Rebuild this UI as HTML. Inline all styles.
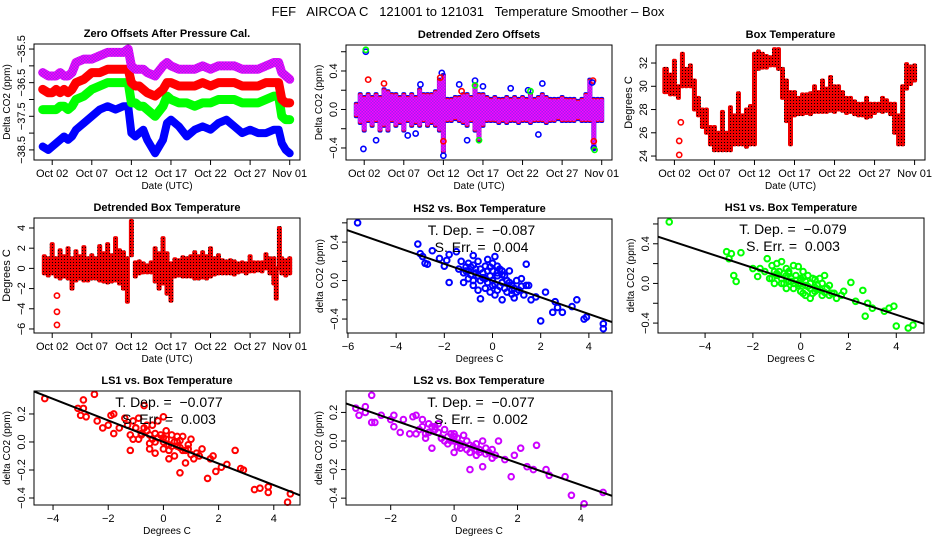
<!DOCTYPE html>
<html><head><meta charset="utf-8"><style>
html,body{margin:0;padding:0;background:#fff;}
svg{display:block;font-family:"Liberation Sans",sans-serif;}
</style></head><body>
<svg id="c" width="936" height="540" viewBox="0 0 936 540" xmlns="http://www.w3.org/2000/svg">
<defs>
<pattern id="pr" width="3" height="3" patternUnits="userSpaceOnUse"><rect width="3" height="3" fill="#e00"/><rect x="1" y="1" width="1" height="1" fill="#000"/></pattern>
<pattern id="pm" width="3" height="3" patternUnits="userSpaceOnUse"><rect width="3" height="3" fill="#a020f0"/><rect x="0" y="0" width="1.5" height="1.5" fill="#f0f"/><rect x="1.5" y="1.5" width="1.5" height="1.5" fill="#f0f"/></pattern>
</defs>
<text x="468" y="16" font-size="13" text-anchor="middle" style="white-space:pre">FEF   AIRCOA C   121001 to 121031   Temperature Smoother – Box</text>
</svg>
<script>
// ---------- data ----------
const timeTickLabels=["Oct 02","Oct 07","Oct 12","Oct 17","Oct 22","Oct 27","Nov 01"];
const timeTickValues=[2,7,12,17,22,27,32];
// Panel 1: zero offsets (day of month, ppm)
const p1T=[0.8,1.5,2,2.5,3,3.5,4,4.5,5,6,7,8,9,10,11,11.6,12,12.5,13,13.5,14,15,16,16.5,17,18,19,20,21,22,23,24,25,26,27,28,29,30,30.6,31,31.5,32];
const p1Blue=[-38.4,-38.5,-38.4,-38.3,-38.2,-38.1,-38.2,-38.1,-37.9,-37.7,-37.5,-37.3,-37.2,-37.3,-37.2,-37.2,-38.0,-38.1,-38.0,-37.9,-38.2,-38.6,-38.2,-37.7,-37.6,-37.8,-38.1,-37.9,-37.8,-37.9,-37.7,-37.6,-37.8,-38.0,-37.9,-38.0,-38.0,-37.9,-37.9,-38.3,-38.5,-38.6];
const p1Magenta=[-36.2,-36.3,-36.3,-36.3,-36.2,-36.3,-36.3,-36.2,-35.9,-35.8,-35.8,-35.7,-35.6,-35.6,-35.6,-35.5,-36.0,-36.1,-36.1,-36.1,-36.2,-36.3,-36.0,-35.9,-36.0,-36.1,-36.1,-36.1,-36.0,-36.1,-36.0,-36.0,-36.0,-36.1,-36.1,-36.1,-36.0,-35.9,-35.9,-36.2,-36.3,-36.4];
const p1Red=[-36.7,-36.8,-36.8,-36.7,-36.8,-36.7,-36.8,-36.7,-36.5,-36.4,-36.2,-36.2,-36.1,-36.1,-36.1,-36.1,-36.5,-36.6,-36.6,-36.7,-36.8,-36.9,-36.7,-36.5,-36.5,-36.6,-36.6,-36.6,-36.5,-36.6,-36.5,-36.5,-36.5,-36.6,-36.6,-36.6,-36.5,-36.5,-36.5,-37.0,-37.1,-37.1];
const p1Green=[-37.3,-37.3,-37.3,-37.3,-37.2,-37.2,-37.3,-37.2,-37.0,-36.9,-36.7,-36.6,-36.5,-36.5,-36.5,-36.5,-37.1,-37.1,-37.2,-37.2,-37.3,-37.5,-37.2,-36.9,-37.0,-37.1,-37.1,-37.2,-37.1,-37.1,-37.0,-37.0,-37.0,-37.1,-37.1,-37.1,-37.0,-36.9,-36.9,-37.5,-37.6,-37.6];
// Panel 2: detrended zero offsets range
const p2T=[1,1.5,2,2.5,3,3.5,4,4.5,5,5.5,6,6.5,7,7.5,8,8.5,9,9.5,10,10.5,11,11.5,12,12.5,13,13.5,14,14.5,15,15.5,16,16.5,17,17.5,18,18.5,19,19.5,20,20.5,21,21.5,22,22.5,23,23.5,24,24.5,25,25.5,26,26.5,27,27.5,28,28.5,29,29.5,30,30.5,31,31.5,32];
const p2Lo=[-0.05,-0.12,-0.2,-0.1,-0.15,-0.1,-0.2,-0.15,-0.2,-0.1,-0.15,-0.12,-0.2,-0.1,-0.15,-0.12,-0.15,-0.1,-0.15,-0.12,-0.15,-0.2,-0.42,-0.1,-0.1,-0.08,-0.1,-0.12,-0.15,-0.1,-0.2,-0.3,-0.15,-0.1,-0.1,-0.1,-0.12,-0.1,-0.12,-0.1,-0.1,-0.12,-0.1,-0.1,-0.12,-0.1,-0.1,-0.1,-0.12,-0.1,-0.1,-0.08,-0.1,-0.1,-0.1,-0.1,-0.08,-0.1,-0.1,-0.1,-0.38,-0.1,-0.1];
const p2Hi=[0.05,0.15,0.12,0.15,0.12,0.15,0.12,0.2,0.18,0.15,0.15,0.12,0.15,0.12,0.15,0.12,0.2,0.15,0.15,0.15,0.18,0.3,0.35,0.1,0.1,0.12,0.12,0.15,0.15,0.12,0.25,0.15,0.15,0.12,0.1,0.12,0.1,0.1,0.12,0.1,0.12,0.1,0.12,0.1,0.15,0.1,0.12,0.15,0.12,0.1,0.1,0.1,0.12,0.1,0.1,0.1,0.08,0.1,0.15,0.3,0.1,0.1,0.1];
const p2OutT=[2.2,2.2,2.5,1.9,3.5,12,12,15,16.5,24.5,24,4.5,9.1,14,16,16,17,31,31,31.1,11.8,11.6,30.9,30.8,7.5,8.5,14.3,22.7,23,20.5];
const p2OutV=[0.6,0.62,0.31,-0.41,-0.32,-0.48,-0.33,-0.32,-0.32,0.27,-0.26,0.27,0.26,0.26,0.3,0.25,0.24,-0.33,-0.4,-0.42,0.38,0.33,0.3,0.28,-0.27,-0.25,0.19,0.2,0.19,0.22];
const p2OutC=["b","g","r","b","b","b","r","b","g","b","b","r","b","b","b","g","b","r","b","g","b","r","r","b","b","b","r","b","g","b"];
// Panel 3: box temperature range
const p3T=[0.8,1,1.5,2,2.5,3,3.5,4,4.5,5,5.5,6,6.5,7,7.5,8,8.5,9,9.5,10,10.5,11,11.5,12,12.5,13,13.5,14,14.5,15,15.5,16,16.5,17,17.5,18,18.5,19,19.5,20,20.5,21,21.5,22,22.5,23,23.5,24,24.5,25,25.5,26,26.5,27,27.5,28,28.5,29,29.5,30,30.5,31,31.5,32];
const p3Lo=[29.5,29.5,29.3,29.3,29,30,30,30,28,27.5,26.5,26,25,24.5,24.5,24.5,24.5,24.5,25,25,25,24.8,25,25,31.5,31.6,31.6,31.8,31.8,31.5,29,27,25,27.5,27.6,27.6,27.7,27.6,27.8,27.8,27.8,27.8,27.9,27.8,28,27.9,27.7,27.8,27.6,27.5,27.5,27.3,27.4,27.7,27.9,27.8,27.9,27.6,26,25,25,29.8,30.2,30.5];
const p3Hi=[31.5,31.5,31,32.2,30,32.8,31.5,31.8,30.5,29,28,28,26.5,26.5,26,27.8,26,28.2,27.5,29.4,27.5,28,28.3,32.8,33,32.8,32.6,32.5,33.2,33.2,31.5,30.5,29.5,29.5,29,29.3,29.3,29.4,30,29.5,30.5,29.8,30.8,30,30,29.5,29,29,28.7,28.5,28.5,29,28.5,28.5,28.5,29,28.8,28.5,28.5,27.5,30,31.9,31.7,31.8];
const p3OutT=[2.6,2.6,2.8];
const p3OutV=[24.1,25.3,26.9];
// Panel 4: detrended box temperature range
const p4T=[1,1.5,2,2.5,3,3.5,4,4.5,5,5.5,6,6.5,7,7.5,8,8.5,9,9.5,10,10.5,11,11.5,12,12.5,13,13.5,14,14.5,15,15.5,16,16.5,17,17.5,18,18.5,19,19.5,20,20.5,21,21.5,22,22.5,23,23.5,24,24.5,25,25.5,26,26.5,27,27.5,28,28.5,29,29.5,30,30.3,30.7,31,31.5,32];
const p4Lo=[-0.5,-0.7,-0.5,-0.8,-1,-0.8,-1,-2,-1.2,-1,-1.2,-1.2,-1,-1,-1.2,-1.3,-1.4,-1.3,-1.2,-1.5,-2,-3.3,1.3,-0.8,-0.5,-0.4,-0.4,-0.4,-1.3,-2,-1.5,-2.5,-3.2,-0.8,-0.7,-0.8,-0.8,-0.8,-1,-1,-0.9,-1,-0.8,-0.6,-0.5,-0.5,-0.5,-0.5,-0.6,-0.4,-0.3,-0.5,-0.3,-0.3,-0.2,-0.3,0,-0.5,-1.5,-3,0,-0.5,-0.7,-0.5];
const p4Hi=[1.2,1,2.4,1,1.8,1.2,2,1,1.7,1.2,2.1,1,1.3,1,2.2,1.5,2.4,1.3,3,1.8,1.6,1,4.7,0.6,0.7,0.5,0.3,0.6,2,1.5,3,1.5,0.5,0.9,0.8,1.1,1,1.2,1.6,1.2,1.6,1.2,2,1,1.3,0.8,0.7,0.8,0.7,0.5,0.6,0.5,1.2,0.6,0.6,0.6,1.4,1,1,0,4,1,0.8,1];
const p4OutT=[2.6,2.6,2.6];
const p4OutV=[-2.7,-4.3,-5.6];
// Scatter panels
const hs2X=[-5.6,-3.1,-3.0,-2.9,-2.8,-2.7,-2.5,-2.2,-2.0,-1.9,-1.8,-1.8,-1.5,-1.4,-1.3,-1.2,-1.1,-1.0,-1.0,-0.9,-0.8,-0.8,-0.7,-0.6,-0.6,-0.5,-0.5,-0.4,-0.3,-0.3,-0.2,-0.1,-0.1,0,0,0.1,0.1,0.2,0.2,0.3,0.4,0.4,0.5,0.6,0.7,0.8,0.9,1.0,1.1,1.2,1.3,1.4,1.5,1.6,1.8,2.0,2.2,2.5,2.6,2.7,2.9,3.3,3.5,3.8,3.9,4.6,4.6,-1.2,-0.8,-0.4,0,0.4,0.8,-0.6,-0.2,0.2,0.6,1.0,-1.0,0.0,-0.9,-0.3,0.3,0.9,-0.7,0.5,1.2,-0.1,-1.1,-0.5,0.1,0.7,-0.2,0.4,1.4,-0.8,0.2,0.8];
const hs2Y=[0.60,0.38,0.28,0.25,0.18,0.17,0.31,0.23,0.15,0.21,0.27,-0.02,0.30,0.12,0.20,-0.02,0.10,0.18,0.02,0.14,0.26,-0.05,0.08,0.20,-0.10,0.12,-0.19,0.03,0.15,-0.08,0.22,0.05,-0.12,0.10,-0.05,0.25,-0.15,0.05,-0.10,0.12,-0.02,-0.20,0.05,-0.12,0.10,-0.05,-0.18,0.0,-0.10,0.02,-0.15,0.17,-0.05,-0.20,-0.17,-0.42,-0.12,-0.33,-0.22,-0.28,-0.33,-0.27,-0.20,-0.40,-0.38,-0.45,-0.50,0.08,0.0,0.08,0.0,0.06,-0.1,0.05,-0.02,0.15,0.0,-0.12,0.1,0.18,0.06,0.02,-0.06,-0.08,0.12,-0.08,-0.06,0.14,0.14,0.0,-0.04,-0.02,0.1,0.1,-0.05,0.16,0.08,-0.14];
const hs1X=[-5.5,-3.1,-3.0,-2.9,-2.8,-2.7,-2.5,-2.0,-1.8,-1.7,-1.5,-1.4,-1.3,-1.2,-1.1,-1.0,-1.0,-0.9,-0.8,-0.8,-0.7,-0.6,-0.6,-0.5,-0.5,-0.4,-0.3,-0.3,-0.2,-0.1,-0.1,0,0,0.1,0.1,0.2,0.2,0.3,0.4,0.4,0.5,0.6,0.7,0.8,0.9,1.0,1.1,1.2,1.4,1.5,1.7,1.8,2.1,2.3,2.6,2.7,2.8,3.0,3.5,3.7,3.9,4.0,4.5,4.7,-1.2,-0.8,-0.4,0,0.4,0.8,-0.6,-0.2,0.2,0.6,1.0,-1.0,0.0,0.3,-0.3,0.7,1.3,-1.1,-0.5,0.1,0.5,0.9,1.2,-0.7,-0.1,0.6];
const hs1Y=[0.62,0.32,0.25,0.30,0.08,0.02,0.31,0.15,0.07,0.15,0.12,0.25,0.05,0.18,0.0,0.20,0.08,0.12,0.22,0.0,0.10,0.15,-0.05,0.12,0.02,0.05,0.18,-0.05,0.08,0.0,0.17,0.05,-0.08,0.12,-0.10,0.02,-0.12,0.08,-0.05,-0.15,0.05,-0.08,-0.02,0.05,-0.12,0.08,-0.05,-0.02,-0.10,-0.15,-0.12,-0.08,0.01,-0.18,-0.07,-0.33,-0.20,-0.25,-0.28,-0.25,-0.23,-0.43,-0.45,-0.42,0.05,0.05,0.02,0.0,0.0,-0.06,0.08,0.03,-0.02,-0.04,-0.09,0.1,0.03,-0.03,0.0,-0.06,-0.1,0.12,0.1,0.06,-0.1,0.0,-0.12,0.0,-0.02,0.04];
const ls1X=[-4.3,-3.1,-3.0,-2.9,-2.9,-2.8,-2.5,-2.4,-2.2,-2.0,-1.9,-1.8,-1.8,-1.6,-1.4,-1.3,-1.2,-1.1,-1.0,-0.9,-0.8,-0.7,-0.6,-0.5,-0.5,-0.4,-0.3,-0.2,-0.1,0,0,0.1,0.2,0.3,0.4,0.5,0.6,0.7,0.8,0.9,1.0,1.2,1.4,1.6,1.7,1.8,1.9,2.1,2.3,2.6,2.8,2.9,3.3,3.5,3.8,3.8,4.5,4.6,-1.2,-0.8,-0.4,0,0.4,0.8,-0.6,-0.2,0.2,0.6,1.0,-1.0,0.0,0.3,-0.3,0.7,1.3,-0.9,0.5,-1.1,-0.7,-0.3,0.1,0.5,0.9,-0.5,0.2,0.6,1.1];
const ls1Y=[0.31,0.24,0.19,0.30,0.24,0.18,0.34,0.15,0.10,0.12,0.19,0.06,0.20,0.10,0.17,0.12,-0.06,0.15,0.10,0.17,0.05,0.26,0.12,0.05,-0.05,0.12,-0.08,0.15,0.05,0.18,-0.05,0.08,-0.12,0.05,-0.1,0.0,-0.22,0.04,-0.15,-0.05,0.02,-0.08,-0.05,-0.26,-0.12,-0.1,-0.21,-0.18,-0.16,-0.06,-0.19,-0.2,-0.34,-0.33,-0.32,-0.36,-0.43,-0.37,0.05,0.06,0.02,0.0,0.0,-0.06,0.08,0.03,-0.02,-0.04,-0.09,0.1,0.03,-0.03,0.0,-0.06,-0.1,0.02,-0.03,0.02,0.1,0.06,0.02,0.04,-0.02,-0.01,-0.06,0.01,-0.12];
const ls2X=[-3.1,-3.0,-2.8,-2.8,-2.6,-2.6,-2.5,-2.3,-2.0,-1.9,-1.9,-1.7,-1.6,-1.4,-1.3,-1.2,-1.1,-1.0,-0.9,-0.8,-0.7,-0.6,-0.5,-0.4,-0.3,-0.2,-0.1,0,0,0.1,0.2,0.3,0.4,0.5,0.6,0.7,0.8,0.9,1.0,1.2,1.4,1.6,1.8,1.9,2.1,2.3,2.5,2.6,2.9,3.0,3.5,3.7,4.1,4.7,-1.2,-0.8,-0.4,0,0.4,0.8,-0.6,-0.2,0.2,0.6,1.0,-1.0,0.0,0.3,-0.3,0.7,1.3,-0.9,0.5,1.1,-0.7,-0.1,0.5,0.9,1.2,-0.5,0.1,0.7];
const ls2Y=[0.23,0.18,0.24,0.2,0.13,0.32,0.13,0.18,0.15,0.18,0.1,0.06,0.15,0.05,0.17,0.18,0.08,0.15,0.05,0.12,-0.05,0.1,0.12,0.02,0.08,-0.02,0.05,0.05,-0.08,0.02,-0.05,0.04,-0.06,-0.2,-0.04,-0.1,-0.08,-0.18,-0.05,-0.06,0.0,-0.13,-0.25,-0.1,-0.05,-0.18,-0.2,-0.03,-0.2,-0.24,-0.25,-0.38,-0.44,-0.36,0.05,0.06,0.02,0.0,0.0,-0.06,0.08,0.03,-0.02,-0.04,-0.09,0.1,0.03,-0.03,0.0,-0.06,-0.1,0.02,-0.03,-0.08,0.1,0.0,-0.08,0.0,-0.12,0.06,-0.04,-0.02];
const fitSlopes=[-0.087,-0.079,-0.077,-0.077];
const fitTexts=[["−0.087","0.004"],["−0.079","0.003"],["−0.077","0.003"],["−0.077","0.002"]];

// ---------- helpers ----------
const NS="http://www.w3.org/2000/svg";
const svg=document.getElementById('c');
function mk(tag,attrs,parent){const e=document.createElementNS(NS,tag);for(const k in attrs)e.setAttribute(k,attrs[k]);(parent||svg).appendChild(e);return e;}
function lin(d0,d1,r0,r1){return v=>r0+(v-d0)/(d1-d0)*(r1-r0);}

function panel(name,title,box,xd,yd,xt,xl,yt,yl,xlab,ylab,ylabSize){
  const g=mk('g',{});
  
  
  const sx=lin(xd[0],xd[1],box[0],box[2]);
  const sy=lin(yd[0],yd[1],box[3],box[1]);
  const cx=(box[0]+box[2])/2;
  const t=mk('text',{x:cx,y:box[1]-7,'font-size':11,'font-weight':'bold','text-anchor':'middle'},g);
  t.textContent=title;
  
  
  const plot=mk('g',{},g);
  
  
  const frame=mk('rect',{x:box[0],y:box[1],width:box[2]-box[0],height:box[3]-box[1],fill:'none',stroke:'#000','stroke-width':1},g);
  
  
  const xa=mk('g',{},g);
  
  
  xt.forEach((v,i)=>{const x=sx(v);
    mk('line',{x1:x,x2:x,y1:box[3],y2:box[3]+5,stroke:'#000'},xa);
    if(xl[i]){const l=mk('text',{x:x,y:box[3]+17,'font-size':11,'text-anchor':'middle'},xa);l.textContent=xl[i];
      
      }
  });
  const xlb=mk('text',{x:cx,y:box[3]+29,'font-size':10,'text-anchor':'middle'},g);xlb.textContent=xlab;
  
  
  const ya=mk('g',{},g);
  
  
  yt.forEach((v,i)=>{const y=sy(v);
    mk('line',{x1:box[0]-5,x2:box[0],y1:y,y2:y,stroke:'#000'},ya);
    if(yl[i]){const lx=box[0]-9;const l=mk('text',{x:lx,y:y,'font-size':11,'text-anchor':'middle',transform:`rotate(-90 ${lx} ${y})`},ya);l.textContent=yl[i];
      
      }
  });
  const cy=(box[1]+box[3])/2, ylx=box[0]-24;
  const ylb=mk('text',{x:ylx,y:cy,'font-size':ylabSize||10,'text-anchor':'middle',transform:`rotate(-90 ${ylx} ${cy})`},g);ylb.textContent=ylab;
  
  
  return {sx,sy,plot,box};
}
function circ(p,x,y,col,name,r,sw){const c=mk('circle',{cx:p.sx(x),cy:p.sy(y),r:r||2.6,fill:'none',stroke:col,'stroke-width':sw||1.6},p.plot);
  
  return c;}
function rangeBars(p,T,Lo,Hi,fill,name,w){T.forEach((t,i)=>{const y1=p.sy(Hi[i]),y2=p.sy(Lo[i]);
  const r=mk('rect',{x:p.sx(t)-w/2,y:y1-2,width:w,height:Math.max(4,y2-y1+4),fill:fill,rx:2},p.plot);
  
  });}

const COLS={b:'#00f',g:'#0f0',r:'#f00',m:'#d0f'};
const TD=[-0.3,33.3];

// Panel 1
{const p=panel('zero-offsets-panel','Zero Offsets After Pressure Cal.',[34,44,300,160],TD,[-38.80,-35.35],timeTickValues,timeTickLabels,
 [-38.5,-38,-37.5,-37,-36.5,-36,-35.5],['−38.5','','−37.5','','−36.5','','−35.5'],'Date (UTC)','Delta CO2  (ppm)');
 [[p1Blue,'#00f','hs2-series'],[p1Green,'#0f0','hs1-series'],[p1Red,'#f00','ls1-series'],[p1Magenta,'url(#pm)','ls2-series']].forEach(([arr,col,nm])=>{
   const pts=p1T.map((t,i)=>p.sx(t)+','+p.sy(arr[i])).join(' ');
   const l=mk('polyline',{points:pts,fill:'none',stroke:col,'stroke-width':col==='#00f'?8:9,'stroke-linejoin':'round','stroke-linecap':'round'},p.plot);
   
   
 });
}
// Panel 2
{const p=panel('detrended-zero-offsets-panel','Detrended Zero Offsets',[346,45,612,160],TD,[-0.525,0.67],timeTickValues,timeTickLabels,
 [-0.4,-0.2,0,0.2,0.4,0.6],['−0.4','','0.0','','0.4',''],'Date (UTC)','Delta CO2  (ppm)');
 rangeBars(p,p2T,p2Lo.map(v=>v-0.02),p2Hi.map(v=>v+0.01),'#00f','hs2-range',5);
 rangeBars(p,p2T,p2Lo.map(v=>v-0.01),p2Hi,'#f00','ls1-range',4.5);
 rangeBars(p,p2T,p2Lo,p2Hi.map(v=>v-0.01),'url(#pm)','ls2-range',4.5);
 p2OutT.forEach((t,i)=>circ(p,t,p2OutV[i],COLS[p2OutC[i]],'outlier-point'));
}
// Panel 3
{const p=panel('box-temperature-panel','Box Temperature',[656,45,925,160],TD,[23.66,33.55],timeTickValues,timeTickLabels,
 [24,26,28,30,32],['24','26','28','30','32'],'Date (UTC)','Degrees C',11);
 rangeBars(p,p3T,p3Lo,p3Hi,'url(#pr)','temperature-range',5);
 p3OutT.forEach((t,i)=>circ(p,t,p3OutV[i],'#f00','temperature-outlier'));
}
// Panel 4
{const p=panel('detrended-box-temperature-panel','Detrended Box Temperature',[34,218,300,333],TD,[-6.4,4.99],timeTickValues,timeTickLabels,
 [-6,-4,-2,0,2,4],['−6','−4','−2','0','2','4'],'Date (UTC)','Degrees C',11);
 rangeBars(p,p4T,p4Lo,p4Hi,'url(#pr)','detrended-temperature-range',5);
 p4OutT.forEach((t,i)=>circ(p,t,p4OutV[i],'#f00','detrended-temperature-outlier'));
}
// Scatter panels
function scatter(name,title,box,xd,yd,xt,yt,ylabs,X,Y,col,k,ptName){
  const p=panel(name,title,box,xd,yd,xt,xt.map(v=>v<0?'−'+(-v):String(v)),yt,ylabs,'Degrees C','delta CO2 (ppm)');
  X.forEach((x,i)=>circ(p,x,Y[i],col,ptName,2.8,2));
  const fl=mk('line',{x1:p.sx(xd[0]),y1:p.sy(fitSlopes[k]*xd[0]),x2:p.sx(xd[1]),y2:p.sy(fitSlopes[k]*xd[1]),stroke:'#000','stroke-width':2},p.plot);
  
  
  const cx=(box[0]+box[2])/2+2;
  const t1=mk('text',{x:cx,y:box[1]+16,'font-size':14,'text-anchor':'middle',style:'white-space:pre'},p.plot);t1.textContent='T. Dep. =  '+fitTexts[k][0];
  
  
  const t2=mk('text',{x:cx,y:box[1]+33,'font-size':14,'text-anchor':'middle',style:'white-space:pre'},p.plot);t2.textContent='S. Err. =  '+fitTexts[k][1];
  
  
}
scatter('hs2-vs-temperature-panel','HS2 vs. Box Temperature',[347,219,612,333],[-6.04,4.96],[-0.545,0.64],[-6,-4,-2,0,2,4],[-0.4,-0.2,0,0.2,0.4,0.6],['−0.4','','0.0','','0.4',''],hs2X,hs2Y,'#00f',0,'hs2-point');
scatter('hs1-vs-temperature-panel','HS1 vs. Box Temperature',[658,218,924,333],[-5.97,5.16],[-0.50,0.66],[-4,-2,0,2,4],[-0.4,-0.2,0,0.2,0.4,0.6],['−0.4','','0.0','','0.4',''],hs1X,hs1Y,'#0f0',1,'hs1-point');
scatter('ls1-vs-temperature-panel','LS1 vs. Box Temperature',[34,391,300,505],[-4.69,4.95],[-0.45,0.364],[-4,-2,0,2,4],[-0.4,-0.2,0,0.2],['−0.4','−0.2','0.0','0.2'],ls1X,ls1Y,'#f00',2,'ls1-point');
scatter('ls2-vs-temperature-panel','LS2 vs. Box Temperature',[346,391,612,505],[-3.41,4.98],[-0.448,0.35],[-2,0,2,4],[-0.4,-0.2,0,0.2],['−0.4','−0.2','0.0','0.2'],ls2X,ls2Y,'#c0f',3,'ls2-point');
</script>
</body></html>
